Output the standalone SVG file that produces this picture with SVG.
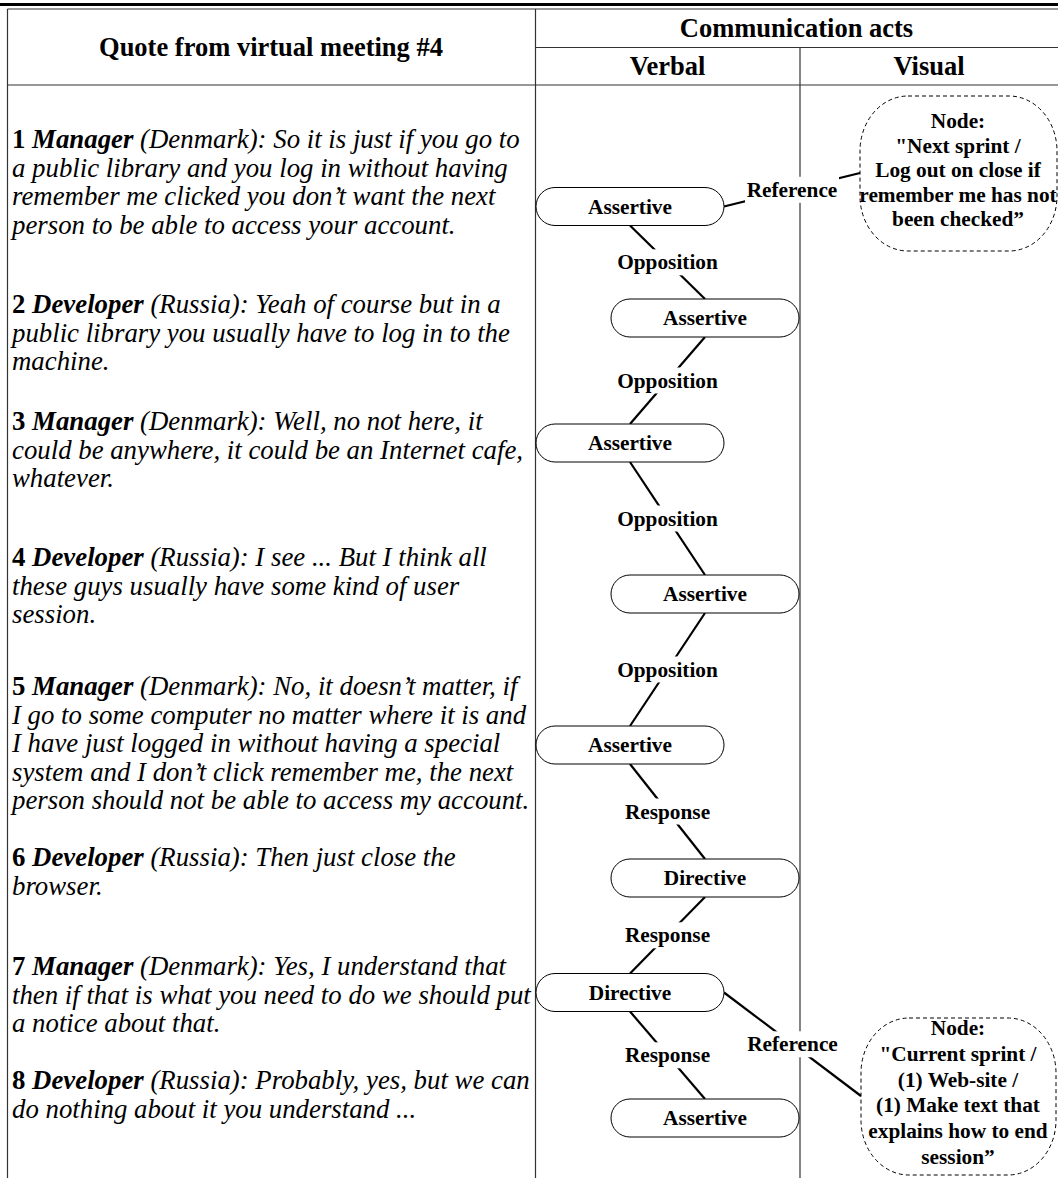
<svg xmlns="http://www.w3.org/2000/svg" width="1058" height="1178" viewBox="0 0 1058 1178">
<style>
.hdr{font-family:"Liberation Serif","Times New Roman",serif;font-weight:bold;font-size:26.5px;text-anchor:middle;fill:#000}
.q{font-family:"Liberation Serif","Times New Roman",serif;font-style:italic;font-size:26.8px;fill:#000}
.q .n{font-weight:bold;font-style:normal}
.q .r{font-weight:bold}
.lbl{font-family:"Liberation Serif","Times New Roman",serif;font-weight:bold;font-size:21.3px;text-anchor:middle;fill:#000}
.node rect{fill:#fff;stroke:#000;stroke-width:1}
.cloud{fill:#fff;stroke:#000;stroke-width:1;stroke-dasharray:4 3}
.conn line{stroke:#000;stroke-width:2.2}
.lb{fill:#fff}
.grid line{stroke:#333;stroke-width:1.2}
</style>
<rect width="1058" height="1178" fill="#fff"/>
<g id="table" class="grid">
<rect x="0" y="3" width="1058" height="3" fill="#000"/>
<line x1="7.5" y1="9" x2="1058" y2="9"/>
<line x1="7.5" y1="9" x2="7.5" y2="1178"/>
<line x1="535.5" y1="9" x2="535.5" y2="1178"/>
<line x1="535.5" y1="47.5" x2="1058" y2="47.5"/>
<line x1="800" y1="47.5" x2="800" y2="1178"/>
<line x1="7.5" y1="85" x2="1058" y2="85"/>
<text class="hdr" x="271" y="56">Quote from virtual meeting #4</text>
<text class="hdr" x="796.5" y="37">Communication acts</text>
<text class="hdr" x="667.5" y="75">Verbal</text>
<text class="hdr" x="929" y="75">Visual</text>
</g>
<g id="quotes" class="q">
<text x="12" y="148"><tspan class="n">1</tspan> <tspan class="r">Manager</tspan> (Denmark): So it is just if you go to</text>
<text x="12" y="176.5">a public library and you log in without having</text>
<text x="12" y="205">remember me clicked you don’t want the next</text>
<text x="12" y="233.5">person to be able to access your account.</text>
<text x="12" y="313"><tspan class="n">2</tspan> <tspan class="r">Developer</tspan> (Russia): Yeah of course but in a</text>
<text x="12" y="341.5">public library you usually have to log in to the</text>
<text x="12" y="370">machine.</text>
<text x="12" y="430"><tspan class="n">3</tspan> <tspan class="r">Manager</tspan> (Denmark): Well, no not here, it</text>
<text x="12" y="458.5">could be anywhere, it could be an Internet cafe,</text>
<text x="12" y="487">whatever.</text>
<text x="12" y="566"><tspan class="n">4</tspan> <tspan class="r">Developer</tspan> (Russia): I see ... But I think all</text>
<text x="12" y="594.5">these guys usually have some kind of user</text>
<text x="12" y="623">session.</text>
<text x="12" y="695"><tspan class="n">5</tspan> <tspan class="r">Manager</tspan> (Denmark): No, it doesn’t matter, if</text>
<text x="12" y="723.5">I go to some computer no matter where it is and</text>
<text x="12" y="752">I have just logged in without having a special</text>
<text x="12" y="780.5">system and I don’t click remember me, the next</text>
<text x="12" y="809">person should not be able to access my account.</text>
<text x="12" y="866"><tspan class="n">6</tspan> <tspan class="r">Developer</tspan> (Russia): Then just close the</text>
<text x="12" y="894.5">browser.</text>
<text x="12" y="975"><tspan class="n">7</tspan> <tspan class="r">Manager</tspan> (Denmark): Yes, I understand that</text>
<text x="12" y="1003.5">then if that is what you need to do we should put</text>
<text x="12" y="1032">a notice about that.</text>
<text x="12" y="1089"><tspan class="n">8</tspan> <tspan class="r">Developer</tspan> (Russia): Probably, yes, but we can</text>
<text x="12" y="1117.5">do nothing about it you understand ...</text>
</g>
<g id="connectors" class="conn">
<line x1="630" y1="225.5" x2="705" y2="299"/>
<line x1="705" y1="337" x2="630" y2="424"/>
<line x1="630" y1="462" x2="705" y2="575"/>
<line x1="705" y1="613" x2="630" y2="726"/>
<line x1="630" y1="764" x2="705" y2="859"/>
<line x1="705" y1="897" x2="630" y2="973.5"/>
<line x1="630" y1="1011.5" x2="705" y2="1099"/>
<line x1="724" y1="206.5" x2="860" y2="173"/>
<line x1="724" y1="992.5" x2="861" y2="1096"/>
<g class="lbl">
<rect class="lb" x="615.5" y="249.3" width="104" height="26"/><text x="667.5" y="269.3">Opposition</text>
<rect class="lb" x="615.5" y="367.5" width="104" height="26"/><text x="667.5" y="387.5">Opposition</text>
<rect class="lb" x="615.5" y="505.5" width="104" height="26"/><text x="667.5" y="525.5">Opposition</text>
<rect class="lb" x="615.5" y="656.5" width="104" height="26"/><text x="667.5" y="676.5">Opposition</text>
<rect class="lb" x="623" y="798.5" width="89" height="26"/><text x="667.5" y="818.5">Response</text>
<rect class="lb" x="623" y="922.3" width="89" height="26"/><text x="667.5" y="942.3">Response</text>
<rect class="lb" x="623" y="1042.3" width="89" height="26"/><text x="667.5" y="1062.3">Response</text>
<rect class="lb" x="745" y="176.8" width="94" height="26"/><text x="792" y="196.8">Reference</text>
<rect class="lb" x="745.5" y="1031.3" width="94" height="26"/><text x="792.5" y="1051.3">Reference</text>
</g>
</g>
<g id="n1" class="node"><rect x="536" y="187.5" width="188" height="38" rx="19"/><text class="lbl" x="630" y="213.5">Assertive</text></g>
<g id="n2" class="node"><rect x="611" y="299" width="188" height="38" rx="19"/><text class="lbl" x="705" y="325">Assertive</text></g>
<g id="n3" class="node"><rect x="536" y="424" width="188" height="38" rx="19"/><text class="lbl" x="630" y="450">Assertive</text></g>
<g id="n4" class="node"><rect x="611" y="575" width="188" height="38" rx="19"/><text class="lbl" x="705" y="601">Assertive</text></g>
<g id="n5" class="node"><rect x="536" y="726" width="188" height="38" rx="19"/><text class="lbl" x="630" y="752">Assertive</text></g>
<g id="n6" class="node"><rect x="611" y="859" width="188" height="38" rx="19"/><text class="lbl" x="705" y="885">Directive</text></g>
<g id="n7" class="node"><rect x="536" y="973.5" width="188" height="38" rx="19"/><text class="lbl" x="630" y="999.5">Directive</text></g>
<g id="n8" class="node"><rect x="611" y="1099" width="188" height="38" rx="19"/><text class="lbl" x="705" y="1125">Assertive</text></g>
<g id="v1" class="visual">
<rect class="cloud" x="860" y="96" width="197" height="155" rx="48" ry="55"/>
<text class="lbl" x="958"><tspan x="958" y="128">Node:</tspan><tspan x="958" y="152.5">"Next sprint /</tspan><tspan x="958" y="177">Log out on close if</tspan><tspan x="958" y="201.5">remember me has not</tspan><tspan x="958" y="226">been checked”</tspan></text>
</g>
<g id="v2" class="visual">
<rect class="cloud" x="861" y="1018" width="195" height="157" rx="48" ry="55"/>
<text class="lbl" x="958"><tspan x="958" y="1035">Node:</tspan><tspan x="958" y="1060.8">"Current sprint /</tspan><tspan x="958" y="1086.6">(1) Web-site /</tspan><tspan x="958" y="1112.4">(1) Make text that</tspan><tspan x="958" y="1138.2">explains how to end</tspan><tspan x="958" y="1164">session”</tspan></text>
</g>
</svg>
